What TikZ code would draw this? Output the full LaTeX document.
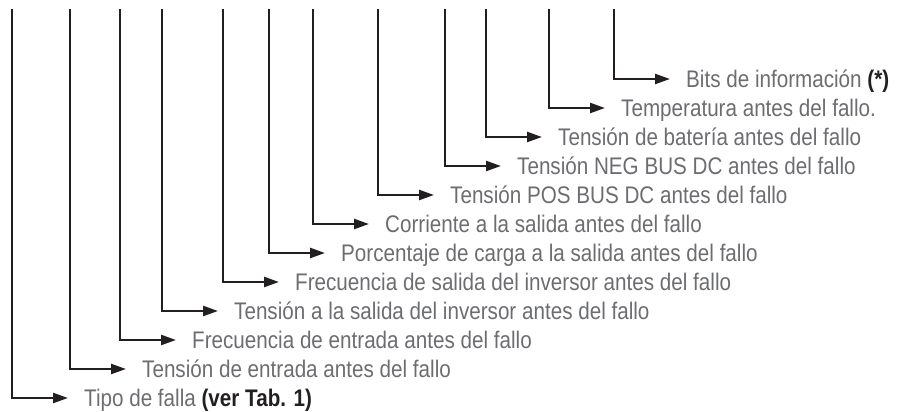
\documentclass[tikz,border=0pt]{standalone}
\usepackage{fontspec}
\setmainfont{Liberation Sans}[FakeStretch=0.86]
\usetikzlibrary{arrows.meta}
\definecolor{txtgray}{RGB}{108,109,112}
\definecolor{inkblack}{RGB}{35,31,32}
\tikzset{
  conn/.style={draw=inkblack, line width=2.4pt, -{Triangle[length=15pt,width=10pt]}},
  lbl/.style={anchor=west, inner sep=0pt, text height=22pt, text depth=4pt,
              font=\fontsize{24pt}{28pt}\selectfont, text=txtgray},
}
\newcommand{\bpart}[1]{\textcolor{inkblack}{\textbf{#1}}}
\begin{document}
\begin{tikzpicture}[x=1pt,y=1pt]
\useasboundingbox (0,0) rectangle (903,412);
\foreach \i/\x/\t in {
  0/12/{Tipo de falla \bpart{(ver Tab. 1)}},
  1/70/{Tensión de entrada antes del fallo},
  2/120/{Frecuencia de entrada antes del fallo},
  3/162/{Tensión a la salida del inversor antes del fallo},
  4/223/{Frecuencia de salida del inversor antes del fallo},
  5/269/{Porcentaje de carga a la salida antes del fallo},
  6/313/{Corriente a la salida antes del fallo},
  7/378/{Tensión POS BUS DC antes del fallo},
  8/445/{Tensión NEG BUS DC antes del fallo},
  9/486/{Tensión de batería antes del fallo},
  10/549/{Temperatura antes del fallo.},
  11/614/{Bits de información \bpart{(*)}}}{
  \pgfmathsetmacro{\yy}{412-(398-29*\i)}
  \coordinate (top\i) at (\x,403);
  \coordinate (tip\i) at (\x+56,\yy);
  \node[lbl] (t\i) at (\x+72,\yy) {\t};
  \draw[conn] (top\i) |- (tip\i);
}
\end{tikzpicture}
\end{document}
